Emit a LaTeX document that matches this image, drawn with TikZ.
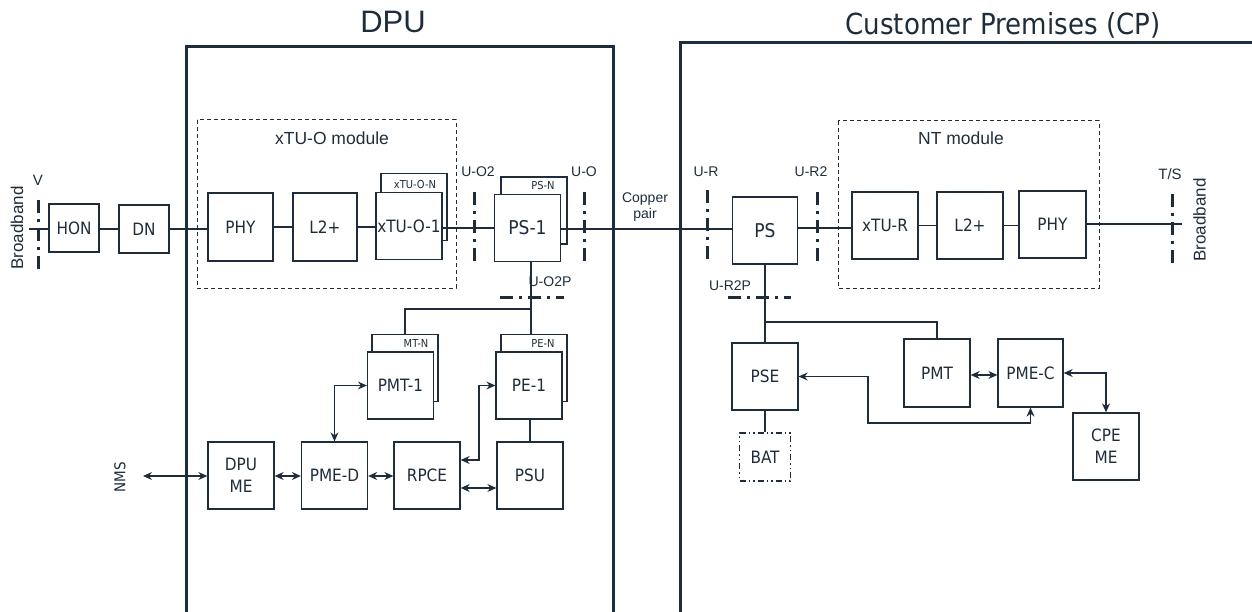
\documentclass[tikz,border=0pt]{standalone}
\usepackage{fontspec}
\setmainfont{Liberation Sans}
\newfontfamily\cond{DejaVu Sans Condensed}
\usetikzlibrary{arrows.meta,calc}
\definecolor{ink}{RGB}{31,45,58}
\tikzset{
  box/.style={draw=ink, line width=1.3pt, fill=white, minimum width=66pt, minimum height=67pt, inner sep=0pt, font=\cond\fontsize{17}{22}\selectfont, text=ink, align=center},
  backbox/.style={box},
  small/.style={font=\cond\fontsize{11}{12}\selectfont, text=ink, inner sep=0pt},
  conn/.style={draw=ink, line width=1.2pt},
  biarrow/.style={conn, {Stealth[length=9pt,width=8pt,inset=3pt]}-{Stealth[length=9pt,width=8pt,inset=3pt]}},
  ref/.style={draw=ink, line width=3pt, dash pattern=on 13pt off 6pt on 3pt off 6pt},
  module/.style={draw=ink, line width=1pt, dash pattern=on 4pt off 3pt},
  wall/.style={draw=ink, line width=3pt},
  lbl/.style={font=\fontsize{14}{16}\selectfont, text=ink, inner sep=0pt, anchor=base},
}
\begin{document}
\begin{tikzpicture}[x=1pt,y=-1pt]
\useasboundingbox (0,0) rectangle (1252,612);
% containers
\draw[wall] (186,614) -- (186,47) -- (613,47) -- (613,614);
\draw[wall] (680,614) -- (680,43) -- (1254,43);
\node[font=\fontsize{31}{34}\selectfont, text=ink, anchor=base, inner sep=0pt] (tdpu) at (393,33) {DPU};
\node[font=\cond\fontsize{29}{32}\selectfont, text=ink, anchor=base, inner sep=0pt] (tcp) at (1003,35) {Customer Premises (CP)};
% modules
\draw[module] (197,120) rectangle (456,288);
\draw[module] (838,121) rectangle (1099,288);
\node[lbl, font=\fontsize{17.5}{20}\selectfont] (mxtu) at (332,145) {xTU-O module};
\node[lbl, font=\fontsize{17.5}{20}\selectfont] (mnt) at (961,145) {NT module};
% left chain
\node[box, minimum width=50pt, minimum height=48pt] (hon) at (74,228) {HON};
\node[box, minimum width=50pt, minimum height=48pt] (dn) at (144,229) {DN};
\node[box, minimum width=65pt, minimum height=68pt] (phyl) at (240.5,227) {PHY};
\node[box, minimum width=64pt, minimum height=68pt] (l2l) at (325,227) {L2+};
\node[backbox] (xtun) at (414,207) {};
\node[small] (xtunl) at (415,184) {xTU-O-N};
\node[box] (xtu1) at (409,226) {xTU-O-1};
\node[backbox] (psn) at (534,210.5) {};
\node[small] (psnl) at (543,185) {PS-N};
\node[box, font=\cond\fontsize{19}{22}\selectfont] (ps1) at (527.5,228) {PS-1};
% lower DPU
\node[backbox] (mtn) at (405,368) {};
\node[small] (mtnl) at (416,343) {MT-N};
\node[box] (pmt1) at (400.5,385.5) {PMT-1};
\node[backbox] (pen) at (534,368) {};
\node[small] (penl) at (543,343) {PE-N};
\node[box] (pe1) at (529,385.5) {PE-1};
\node[box] (dpume) at (241,475.5) {DPU\\ME};
\node[box] (pmed) at (334.5,475.5) {PME-D};
\node[box] (rpce) at (427,475.5) {RPCE};
\node[box] (psu) at (530,475.5) {PSU};
% right chain
\node[box, minimum width=65pt, font=\cond\fontsize{19}{22}\selectfont] (ps) at (765,230.5) {PS};
\node[box] (xtur) at (885,225.5) {xTU-R};
\node[box] (l2r) at (970,225.5) {L2+};
\node[box, minimum width=67pt] (phyr) at (1052.5,224.5) {PHY};
\node[box] (pse) at (765,376.5) {PSE};
\node[box, minimum height=68pt] (pmt) at (937,373) {PMT};
\node[box, minimum width=65pt, minimum height=68pt] (pmec) at (1030.5,373) {PME-C};
\node[box] (cpeme) at (1106,446.5) {CPE\\ME};
\node[box, minimum width=51pt, minimum height=48pt, dash pattern=on 6pt off 3pt on 1.5pt off 3pt on 1.5pt off 3pt, line width=1.1pt] (bat) at (765,457) {BAT};
% coordinates
\coordinate (bbl) at (29,229);
\coordinate (bbr) at (1182,224);
\coordinate (nms) at (143,476);
\coordinate (j1) at (531,309);
\coordinate (k1) at (479,460);
\coordinate (j2) at (765,322);
\coordinate (m1) at (868,423);
% connectors
\draw[conn] (bbl) -- (hon.west |- bbl);
\draw[conn] (hon.east |- dn) -- (dn.west);
\draw[conn] (dn.east) -- (phyl.west |- dn.east);
\draw[conn] (phyl) -- (l2l);
\draw[conn] (l2l) -- (xtu1.west |- l2l);
\draw[conn] (xtu1.east |- ps1) -- (ps1.west);
\draw[conn] (ps1.east |- 0,229) -- (ps.west |- 0,229);
\draw[conn] (ps.east |- 0,228) -- (xtur.west |- 0,228);
\draw[conn] (xtur) -- (l2r);
\draw[conn] (l2r) -- (phyr.west |- l2r);
\draw[conn] (phyr.east |- bbr) -- (bbr);
\draw[conn] (ps1.south -| j1) -- (j1) -- (j1 |- pen.north);
\draw[conn] (j1) -| (mtn.north);
\draw[conn] (pe1.south -| psu.north) -- (psu.north);
\draw[biarrow] (nms) -- (dpume.west |- nms);
\draw[biarrow] (dpume.east |- nms) -- (pmed.west |- nms);
\draw[biarrow] (pmed.east |- nms) -- (rpce.west |- nms);
\draw[biarrow] ($(rpce.east)+(0,12.5)$) -- ($(psu.west)+(0,12.5)$);
\draw[biarrow] (pmed.north) |- (pmt1.west);
\draw[biarrow] (rpce.east |- k1) -- (k1) |- (pe1.west);
\draw[conn] (ps.south) -- (pse.north);
\draw[conn] (j2) -| (pmt.north);
\draw[conn] (pse.south) -- (bat.north);
\draw[biarrow] (pmt.east |- 0,375) -- (pmec.west |- 0,375);
\draw[biarrow] (pse.east) -| (m1) -| (pmec.south);
\draw[biarrow] (pmec.east) -| (cpeme.north);
% reference points
\draw[ref] (38,200) -- (38,272);
\draw[ref] (474,192) -- (474,262);
\draw[ref] (584,192) -- (584,262);
\draw[ref] (500,297) -- (564,297);
\draw[ref] (707,190) -- (707,260);
\draw[ref] (817,192) -- (817,262);
\draw[ref] (728,297) -- (791,297);
\draw[ref] (1172,194) -- (1172,265);
% labels
\node[lbl, font=\fontsize{15}{16}\selectfont] (lv) at (38,186) {V};
\node[lbl] (luo2) at (478,177) {U-O2};
\node[lbl] (luo) at (584,177) {U-O};
\node[lbl] (luo2p) at (550,287) {U-O2P};
\node[lbl] (lur) at (706,177) {U-R};
\node[lbl] (lur2) at (811,177) {U-R2};
\node[lbl] (lur2p) at (730,290) {U-R2P};
\node[lbl, font=\fontsize{15}{16}\selectfont] (lts) at (1170,180) {T/S};
\node[lbl] (lcop) at (645,203) {Copper};
\node[lbl] (lpair) at (645,219) {pair};
\node[font=\fontsize{17}{18}\selectfont, text=ink, rotate=90, inner sep=0pt] (bb1) at (17,228) {Broadband};
\node[font=\fontsize{17}{18}\selectfont, text=ink, rotate=90, inner sep=0pt] (bb2) at (1199.5,220) {Broadband};
\node[font=\cond\fontsize{15}{16}\selectfont, text=ink, rotate=90, inner sep=0pt] (lnms) at (120,477) {NMS};
\end{tikzpicture}
\end{document}
